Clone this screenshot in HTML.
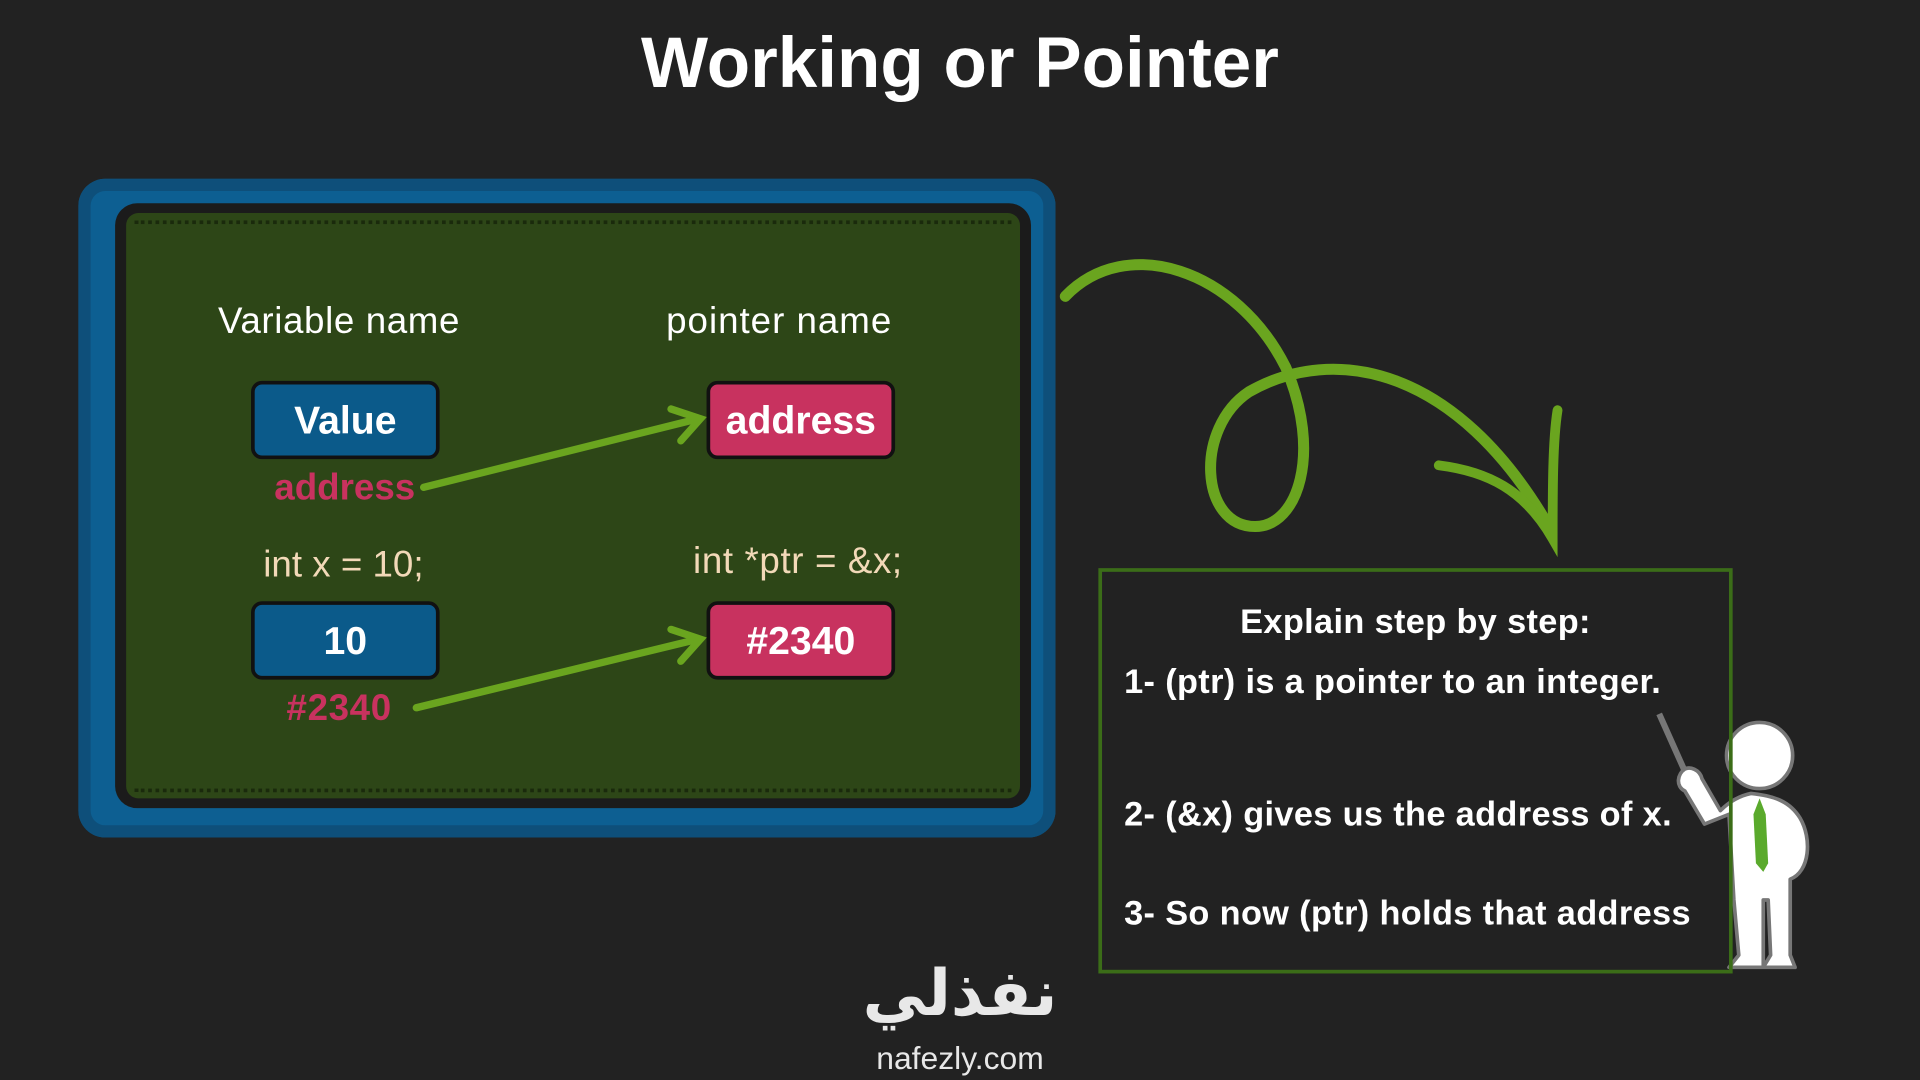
<!DOCTYPE html>
<html><head><meta charset="utf-8"><style>
html,body{margin:0;padding:0;background:#222;width:1920px;height:1080px;overflow:hidden}
#w{position:absolute;left:0;top:0;width:1568px;height:882px;transform:scale(1.22449);transform-origin:0 0;font-family:"Liberation Sans",sans-serif;color:#fff}
.a{position:absolute}
.t{position:absolute;white-space:nowrap}
.box{position:absolute;border:3px solid #111;border-radius:9px;font-weight:bold;font-size:32px;display:flex;align-items:center;justify-content:center;color:#fff}
.blue{background:#0b5a8a}.pink{background:#c8325f}
.s{font-size:28px;font-weight:bold;letter-spacing:0.3px}
</style></head><body><div id="w">
<div class="t" style="left:0;width:1568px;text-align:center;top:18px;font-size:58px;font-weight:bold">Working or Pointer</div>
<div class="a" style="left:64px;top:146px;width:798px;height:538px;background:#0d5f92;border-radius:22px;box-shadow:inset 0 0 0 10px #0e4f7a"></div>
<div class="a" style="left:94px;top:166px;width:748px;height:494px;background:#1b1b1b;border-radius:18px"></div>
<div class="a" style="left:103px;top:174px;width:730px;height:478px;background:#2d4617;border-radius:10px"></div>
<div class="a" style="left:110px;top:180px;width:716px;height:4px;border-top:3px dotted #1a2a0c"></div>
<div class="a" style="left:110px;top:644px;width:716px;height:4px;border-top:3px dotted #1a2a0c"></div>
<div class="t" style="left:178px;top:246px;font-size:30px;letter-spacing:0.5px">Variable name</div>
<div class="t" style="left:544px;top:246px;font-size:30px;letter-spacing:0.8px">pointer name</div>
<div class="box blue" style="left:205px;top:311px;width:148px;height:58px">Value</div>
<div class="box pink" style="left:577px;top:311px;width:148px;height:58px">address</div>
<div class="t" style="left:224px;top:382px;font-size:30px;font-weight:bold;color:#c8325f">address</div>
<div class="t" style="left:215px;top:445px;font-size:30px;color:#f2d9b8">int x = 10;</div>
<div class="t" style="left:566px;top:442px;font-size:30px;color:#f2d9b8;letter-spacing:0.5px">int *ptr = &amp;x;</div>
<div class="box blue" style="left:205px;top:491px;width:148px;height:58px">10</div>
<div class="box pink" style="left:577px;top:491px;width:148px;height:58px">#2340</div>
<div class="t" style="left:234px;top:562px;font-size:30px;font-weight:bold;color:#c8325f;letter-spacing:0.5px">#2340</div>
<svg class="a" style="left:0;top:0" width="1568" height="882">
<g stroke="#6aa51f" stroke-width="6" fill="none" stroke-linecap="round">
<line x1="346" y1="398" x2="570" y2="342"/><polyline points="548,334 572,342 556,360"/>
<line x1="340" y1="578" x2="570" y2="522"/><polyline points="548,514 572,522 556,540"/>
<path d="M870 242 C920 190 1010 220 1050 300 C1080 370 1060 430 1025 430 C980 430 975 350 1020 320 C1090 280 1190 300 1265 430" stroke-width="9"/>
<path d="M1175 380 C1215 385 1245 400 1268 440 C1268 400 1268 360 1272 335" stroke-width="8"/>
</g>
<g stroke="#777" stroke-width="3" fill="#fff" stroke-linejoin="round">
<line x1="1355" y1="583" x2="1376" y2="630" stroke-width="5"/>
<path d="M1376 628 C1370 632 1368 642 1376 646 L1392 673 L1412 665 L1416 735 L1420 780 L1412 790 L1440 790 L1440 735 L1444 735 L1446 780 L1440 790 L1466 790 L1462 780 L1462 718 C1478 712 1480 685 1470 668 C1462 655 1450 650 1430 648 C1420 650 1412 655 1405 662 L1390 636 C1388 628 1380 626 1376 628 Z"/>
<circle cx="1437" cy="617" r="27"/>
<path d="M1437 652 L1432 665 L1434 705 L1440 712 L1444 705 L1442 665 Z" fill="#5aaa2c" stroke="none"/>
</g>
</svg>
<div class="a" style="left:897px;top:464px;width:512px;height:325px;border:3px solid #3b6d18"></div>
<div class="t s" style="left:897px;width:518px;text-align:center;top:492px">Explain step by step:</div>
<div class="t s" style="left:918px;top:541px">1- (ptr) is a pointer to an integer.</div>
<div class="t s" style="left:918px;top:649px">2- (&amp;x) gives us the address of x.</div>
<div class="t s" style="left:918px;top:730px">3- So now (ptr) holds that address</div>
<div class="t" style="left:0;width:1568px;text-align:center;top:782px;font-size:52px;font-weight:bold;color:#e8e8e8;font-family:'DejaVu Sans',sans-serif">نفذلي</div>
<div class="t" style="left:0;width:1568px;text-align:center;top:849px;font-size:26px;color:#e8e8e8">nafezly.com</div>
</div></body></html>
